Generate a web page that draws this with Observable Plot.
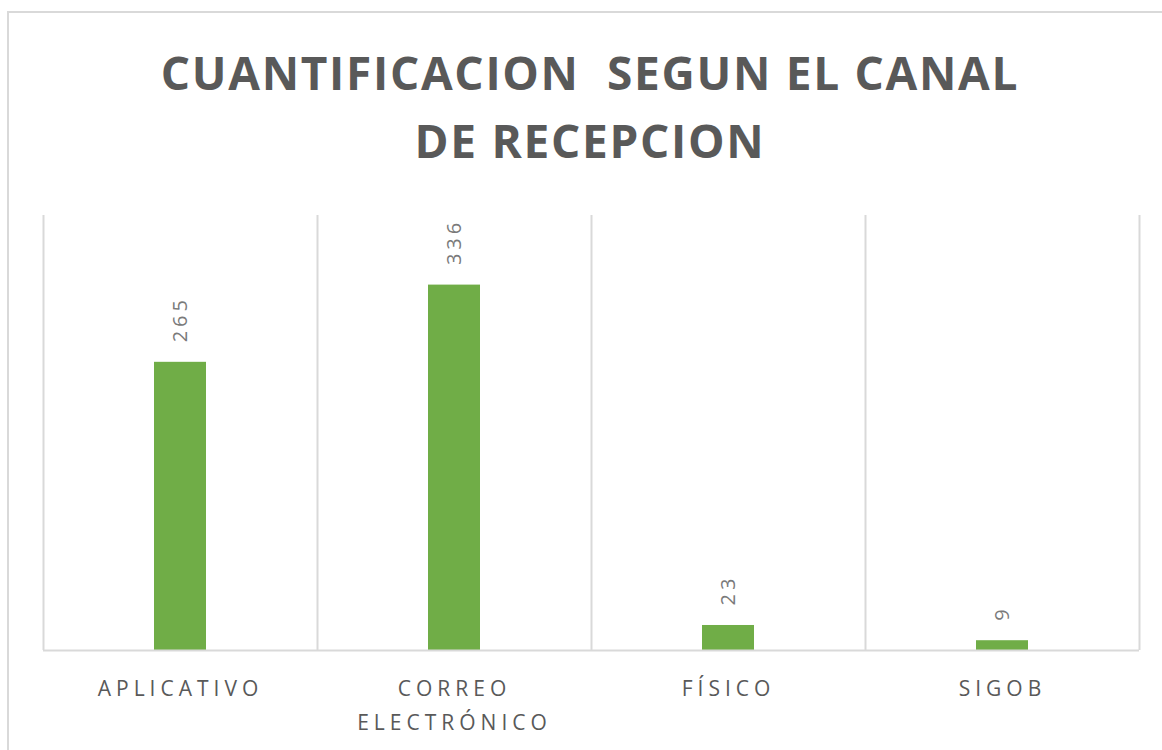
<!DOCTYPE html>
<html>
<head>
<meta charset="utf-8">
<script src="https://cdn.jsdelivr.net/npm/d3@7"></script>
<script src="https://cdn.jsdelivr.net/npm/@observablehq/plot@0.6"></script>
<style>
  html, body { margin: 0; padding: 0; background: #fff; }
  #wrap { position: relative; width: 1162px; height: 750px; overflow: hidden; background: #fff; }
  #border { position: absolute; left: 7px; top: 11px; width: 1200px; height: 800px; border: 2px solid #d9d9d9; box-sizing: border-box; }
  #title { position: absolute; left: 0; top: 38px; width: 1178px; text-align: center;
    font-family: "Open Sans", sans-serif; font-weight: 700; font-size: 46px; line-height: 68px;
    letter-spacing: 1.7px; color: #595959; white-space: pre; padding-left: 2px; box-sizing: border-box; }
  #chart { position: absolute; left: 0; top: 190px; }
  #chart svg { background: transparent !important; }
</style>
</head>
<body>
<div id="wrap">
  <div id="border"></div>
  <div id="title"></div>
  <div id="chart"></div>
</div>
<script>
const titleLines = ["CUANTIFICACION  SEGUN EL CANAL", "DE RECEPCION"];
const categories = ["APLICATIVO", "CORREO ELECTRÓNICO", "FÍSICO", "SIGOB"];
const tickLabels = ["APLICATIVO", "CORREO\nELECTRÓNICO", "FÍSICO", "SIGOB"];
const values = [265, 336, 23, 9];
const yDomain = [0, 400];

document.getElementById("title").textContent = titleLines.join("\n");

const data = categories.map((c, i) => ({category: c, label: tickLabels[i], value: values[i], i}));
const bounds = d3.range(categories.length + 1);

const chart = Plot.plot({
  width: 1162,
  height: 560,
  marginTop: 25,
  marginBottom: 100,
  marginLeft: 43,
  marginRight: 23,
  x: {domain: [0, categories.length], axis: null},
  y: {domain: yDomain, axis: null},
  style: {fontFamily: "'Open Sans', sans-serif", background: "transparent"},
  marks: [
    Plot.ruleX(bounds, {x: d => d, stroke: "#d9d9d9", strokeWidth: 2, strokeOpacity: 1}),
    Plot.rectY(data, {x1: d => d.i, x2: d => d.i + 1, y: "value", fill: "#70AD47", insetLeft: 111, insetRight: 111}),
    Plot.ruleY([0], {stroke: "#d9d9d9", strokeWidth: 2, strokeOpacity: 1}),
    Plot.text(data, {x: d => d.i + 0.5, y: "value", text: d => String(d.value), rotate: -90,
      textAnchor: "start", lineAnchor: "middle", dy: -20, fontSize: 20, fill: "#7a7a7a"}),
    Plot.text(data, {x: d => d.i + 0.5, frameAnchor: "bottom", text: "label", lineAnchor: "top",
      dy: 21, fontSize: 21, lineHeight: 1.62, fill: "#595959"})
  ]
});
const textGroups = chart.querySelectorAll('g[aria-label="text"]');
if (textGroups[0]) textGroups[0].querySelectorAll("text").forEach(t => t.style.letterSpacing = "4px");
if (textGroups[1]) textGroups[1].querySelectorAll("text").forEach(t => t.style.letterSpacing = "5px");
document.getElementById("chart").appendChild(chart);
</script>
</body>
</html>
